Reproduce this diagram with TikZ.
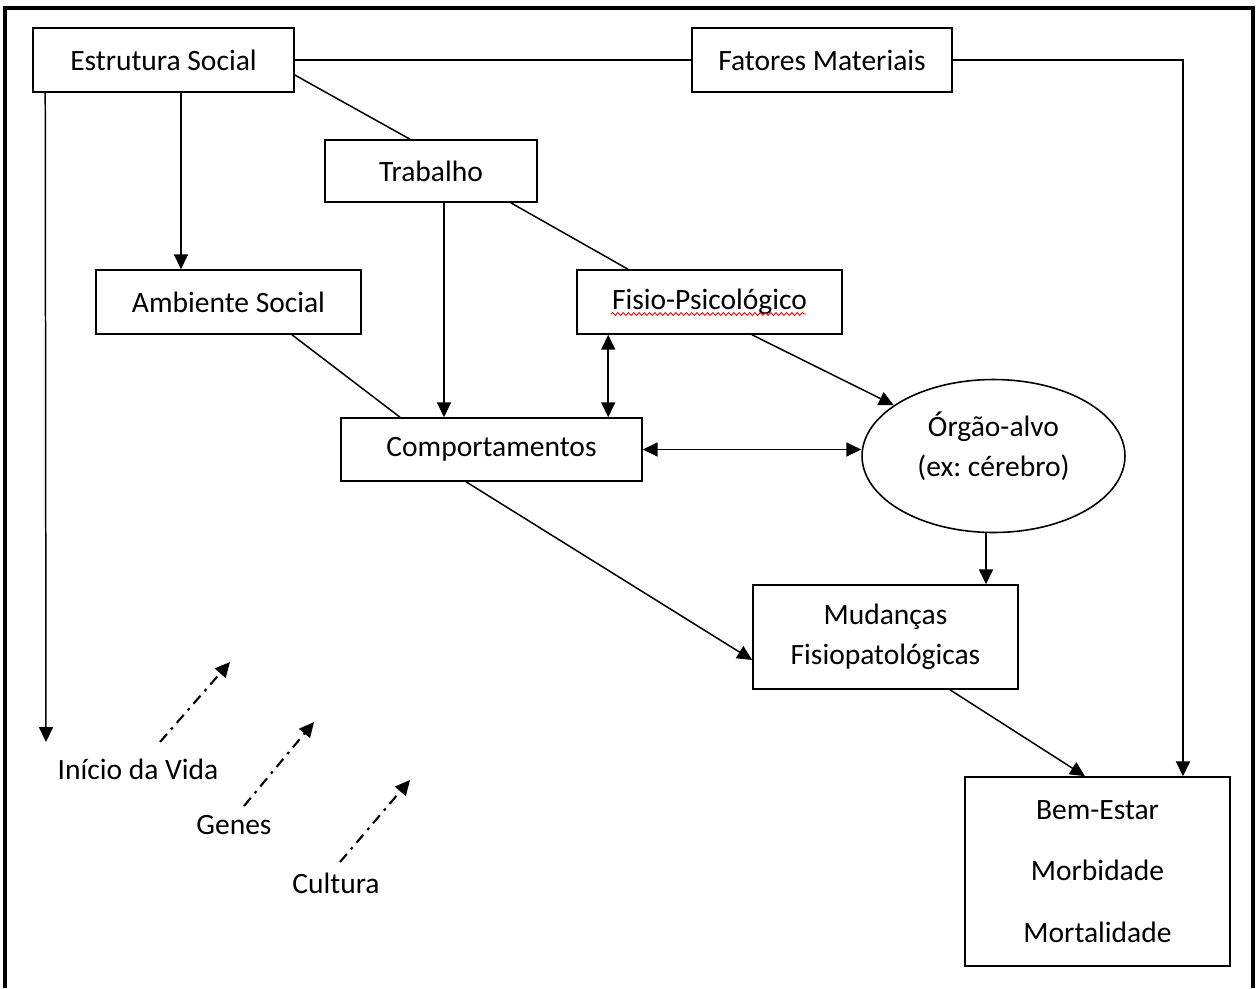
\documentclass[tikz,border=0pt]{standalone}
\usepackage{fontspec}
\setmainfont{Carlito}
\usetikzlibrary{arrows.meta, shapes.geometric, decorations.pathmorphing}

\begin{document}
\begin{tikzpicture}[x=0.02cm, y=-0.02cm, line width=0.85pt,
  every node/.style={font=\fontsize{16.8}{22.8}\selectfont},
  box/.style={draw, line width=0.9pt, align=center, inner sep=0pt},
  arr/.style={-{Triangle[length=8.5pt,width=8pt]}},
  darr/.style={{Triangle[length=8.5pt,width=8pt]}-{Triangle[length=8.5pt,width=8pt]}},
  dotarr/.style={arr, line width=1.2pt, dash pattern=on 6pt off 3.5pt on 1.5pt off 3.5pt}]
  \useasboundingbox (0,0) rectangle (1258,988);

  % outer frame (open at the bottom)
  \draw[line width=2pt] (5,988) -- (5,8) -- (1253,8) -- (1253,988);

  % boxes
  \node[box, minimum width=5.22cm, minimum height=1.28cm] (estr) at (163.5,60) {Estrutura Social};
  \node[box, minimum width=5.2cm, minimum height=1.28cm] (fat) at (822,60) {Fatores Materiais};
  \node[box, minimum width=4.24cm, minimum height=1.24cm] (trab) at (431,171) {Trabalho};
  \node[box, minimum width=5.3cm, minimum height=1.28cm] (amb) at (228.5,302) {Ambiente Social};
  \node[box, minimum width=5.3cm, minimum height=1.28cm] (fisio) at (709.5,302) {Fisio-Psicológico};
  \node[box, minimum width=6.02cm, minimum height=1.26cm] (comp) at (491.5,449.5) {Comportamentos};
  \node[ellipse, draw, line width=0.9pt, inner sep=0pt,
        minimum width=5.26cm, minimum height=3.06cm] (org) at (993.5,456) {};
  \node[align=center] (orgtxt) at (993.5,446) {Órgão-alvo\\(ex:\ cérebro)};
  \node[box, minimum width=5.3cm, minimum height=2.08cm] (mud) at (885.5,637) {Mudanças\\Fisiopatológicas};
  \node[box, minimum width=5.3cm, minimum height=3.78cm,
        font=\fontsize{16.8}{35.2}\selectfont] (bem) at (1097.5,871.5) {Bem-Estar\\Morbidade\\Mortalidade};

  % spell-check squiggle
  \draw[red, line width=0.5pt, decorate,
        decoration={snake, amplitude=0.8pt, segment length=3pt}] (611,314) -- (806,314);

  % free labels
  \node (vida) at (138,769) {Início da Vida};
  \node (genes) at (234,825) {Genes};
  \node (cult) at (336,883) {Cultura};
  \coordinate (vidaend) at (46,742);
  \coordinate (d1) at (160,742);
  \coordinate (d2) at (244,806);
  \coordinate (d3) at (340,862);

  % connectors
  \draw (estr) -- (fat);
  \draw[arr] (fat.east) -| ([xshift=1.71cm]bem.north);
  \draw[arr] ([xshift=0.26cm]estr.south west) -- (vidaend);
  \draw[arr] ([xshift=0.35cm]estr.south) -- ([xshift=0.35cm]estr.south |- amb.north);
  \draw ([yshift=-0.3cm]estr.east) -- ([xshift=-0.42cm]trab.north);
  \draw[arr] ([xshift=0.26cm]trab.south) -- ([xshift=0.26cm]trab.south |- comp.north);
  \draw ([xshift=-0.54cm]trab.south east) -- ([xshift=-1.63cm]fisio.north);
  \draw ([xshift=1.27cm]amb.south) -- ([xshift=-1.83cm]comp.north);
  \draw[darr] ([xshift=0.64cm]fisio.south west) -- ([xshift=0.64cm]fisio.south west |- comp.north);
  \draw[arr] ([xshift=0.85cm]fisio.south) -- (org.153);
  \draw[darr] (comp.east) -- (comp.east -| org.west);
  \draw[arr] ([xshift=-0.15cm]org.south) -- ([xshift=-0.15cm]org.south |- mud.north);
  \draw[arr] ([xshift=-0.51cm]comp.south) -- ([yshift=-0.46cm]mud.west);
  \draw[arr] ([xshift=1.29cm]mud.south) -- ([xshift=-0.25cm]bem.north);

  % dash-dot arrows
  \draw[dotarr] (d1) -- ++(70,-80);
  \draw[dotarr] (d2) -- ++(70,-84);
  \draw[dotarr] (d3) -- ++(70,-82);
\end{tikzpicture}
\end{document}
